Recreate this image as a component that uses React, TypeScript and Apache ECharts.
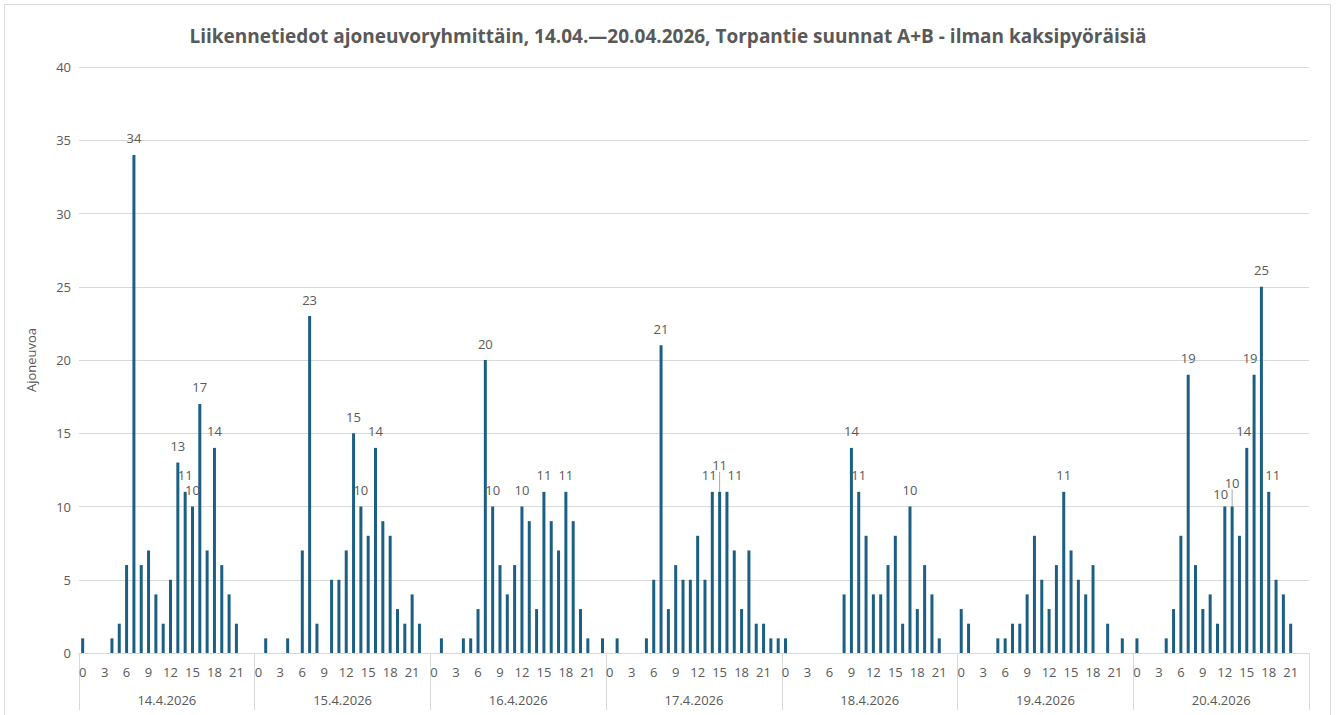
import React, { useEffect, useRef } from 'react';
import * as echarts from 'echarts';

const title = 'Liikennetiedot ajoneuvoryhmittäin, 14.04.—20.04.2026, Torpantie suunnat A+B - ilman kaksipyöräisiä';
const yName = 'Ajoneuvoa';
const days = ['14.4.2026', '15.4.2026', '16.4.2026', '17.4.2026', '18.4.2026', '19.4.2026', '20.4.2026'];
const hours = ['0', '1', '2', '3', '4', '5', '6', '7', '8', '9', '10', '11', '12', '13', '14', '15', '16', '17', '18', '19', '20', '21', '22', '23'];

const day14 = [1, 0, 0, 0, 1, 2, 6, 34, 6, 7, 4, 2, 5, 13, 11, 10, 17, 7, 14, 6, 4, 2, 0, 0];
const day15 = [0, 1, 0, 0, 1, 0, 7, 23, 2, 0, 5, 5, 7, 15, 10, 8, 14, 9, 8, 3, 2, 4, 2, 0];
const day16 = [0, 1, 0, 0, 1, 1, 3, 20, 10, 6, 4, 6, 10, 9, 3, 11, 9, 7, 11, 9, 3, 1, 0, 1];
const day17 = [0, 1, 0, 0, 0, 1, 5, 21, 3, 6, 5, 5, 8, 5, 11, 11, 11, 7, 3, 7, 2, 2, 1, 1];
const day18 = [1, 0, 0, 0, 0, 0, 0, 0, 4, 14, 11, 8, 4, 4, 6, 8, 2, 10, 3, 6, 4, 1, 0, 0];
const day19 = [3, 2, 0, 0, 0, 1, 1, 2, 2, 4, 8, 5, 3, 6, 11, 7, 5, 4, 6, 0, 2, 0, 1, 0];
const day20 = [1, 0, 0, 0, 1, 3, 8, 19, 6, 3, 4, 2, 10, 10, 8, 14, 19, 25, 11, 5, 4, 2, 0, 0];

const allDays = [day14, day15, day16, day17, day18, day19, day20];

// label nudges (day index, hour) -> [dx, dy, leader line]
const labelNudges: [number, number, number, number, boolean][] = [
  [3, 14, -3, 0, false],
  [3, 15, 0, -10, true],
  [3, 16, 8, 0, false],
  [6, 12, -4, 4, false],
  [6, 13, 0, -7, true],
  [6, 15, -3, 0, false],
  [6, 16, -4, 0, false],
  [6, 18, 4, 0, false],
];

export default function App() {
  const ref = useRef<HTMLDivElement>(null);
  useEffect(() => {
    if (!ref.current) return;
    const chart = echarts.init(ref.current, null, { renderer: 'svg' });
    const categories: string[] = [];
    const data: any[] = [];
    const nudgeMap: Record<number, { dx: number; dy: number }> = {};
    const leaderSet: Record<number, boolean> = {};
    labelNudges.forEach(([d, h, dx, dy, leader]) => {
      nudgeMap[d * 24 + h] = { dx, dy };
      if (leader) leaderSet[d * 24 + h] = true;
    });
    days.forEach((d, di) => {
      hours.forEach((h, hi) => {
        categories.push(d + '|' + h);
        const idx = di * 24 + hi;
        const v = allDays[di][hi];
        if (leaderSet[idx]) {
          data.push({ value: v, labelLine: { show: true, lineStyle: { color: '#a6a6a6', width: 1 } } });
        } else {
          data.push({ value: v });
        }
      });
    });
    const font = 'Open Sans, sans-serif';
    const gray = '#595959';
    const lineGray = '#d9d9d9';
    chart.setOption({
      animation: false,
      textStyle: { fontFamily: font },
      title: {
        text: title,
        left: 'center',
        top: 21,
        textStyle: { fontFamily: font, fontSize: 19, fontWeight: 'bold', color: gray },
      },
      graphic: [
        {
          type: 'rect',
          shape: { x: 4.5, y: 4.5, width: 1326, height: 712 },
          style: { fill: 'none', stroke: lineGray, lineWidth: 1 },
          silent: true,
        },
      ],
      grid: { left: 79, right: 27, top: 67, bottom: 62 },
      xAxis: [
        {
          type: 'category',
          data: categories,
          axisLine: { show: true, lineStyle: { color: lineGray } },
          axisTick: { show: false },
          axisLabel: {
            interval: (index: number) => index % 3 === 0,
            formatter: (v: string) => v.split('|')[1],
            color: gray,
            fontSize: 13,
            margin: 12,
            fontFamily: font,
          },
        },
        {
          type: 'category',
          data: days,
          position: 'bottom',
          axisLine: { show: false },
          axisTick: { show: true, length: 57, lineStyle: { color: lineGray } },
          axisLabel: { color: gray, fontSize: 13, margin: 40, fontFamily: font },
        },
      ],
      yAxis: {
        type: 'value',
        min: 0,
        max: 40,
        interval: 5,
        name: yName,
        nameLocation: 'middle',
        nameGap: 42,
        nameTextStyle: { color: gray, fontSize: 13, fontFamily: font },
        axisLine: { show: false },
        axisTick: { show: false },
        axisLabel: { color: gray, fontSize: 13, margin: 8, fontFamily: font },
        splitLine: { lineStyle: { color: lineGray } },
      },
      series: [
        {
          type: 'bar',
          xAxisIndex: 0,
          data,
          barWidth: 3,
          itemStyle: { color: '#1c5f85' },
          label: {
            show: true,
            position: 'top',
            distance: 10,
            color: gray,
            fontSize: 13,
            fontFamily: font,
            formatter: (p: any) => (p.value >= 10 ? String(p.value) : ''),
          },
          labelLine: { show: false },
          labelLayout: (params: any) => {
            const n = nudgeMap[params.dataIndex];
            if (!n) return {};
            return { dx: n.dx, dy: n.dy };
          },
        },
      ],
    });
    return () => chart.dispose();
  }, []);
  return (
    <div
      ref={ref}
      style={{ position: 'fixed', left: 0, top: 0, width: 1336, height: 715, background: '#fff' }}
    />
  );
}
